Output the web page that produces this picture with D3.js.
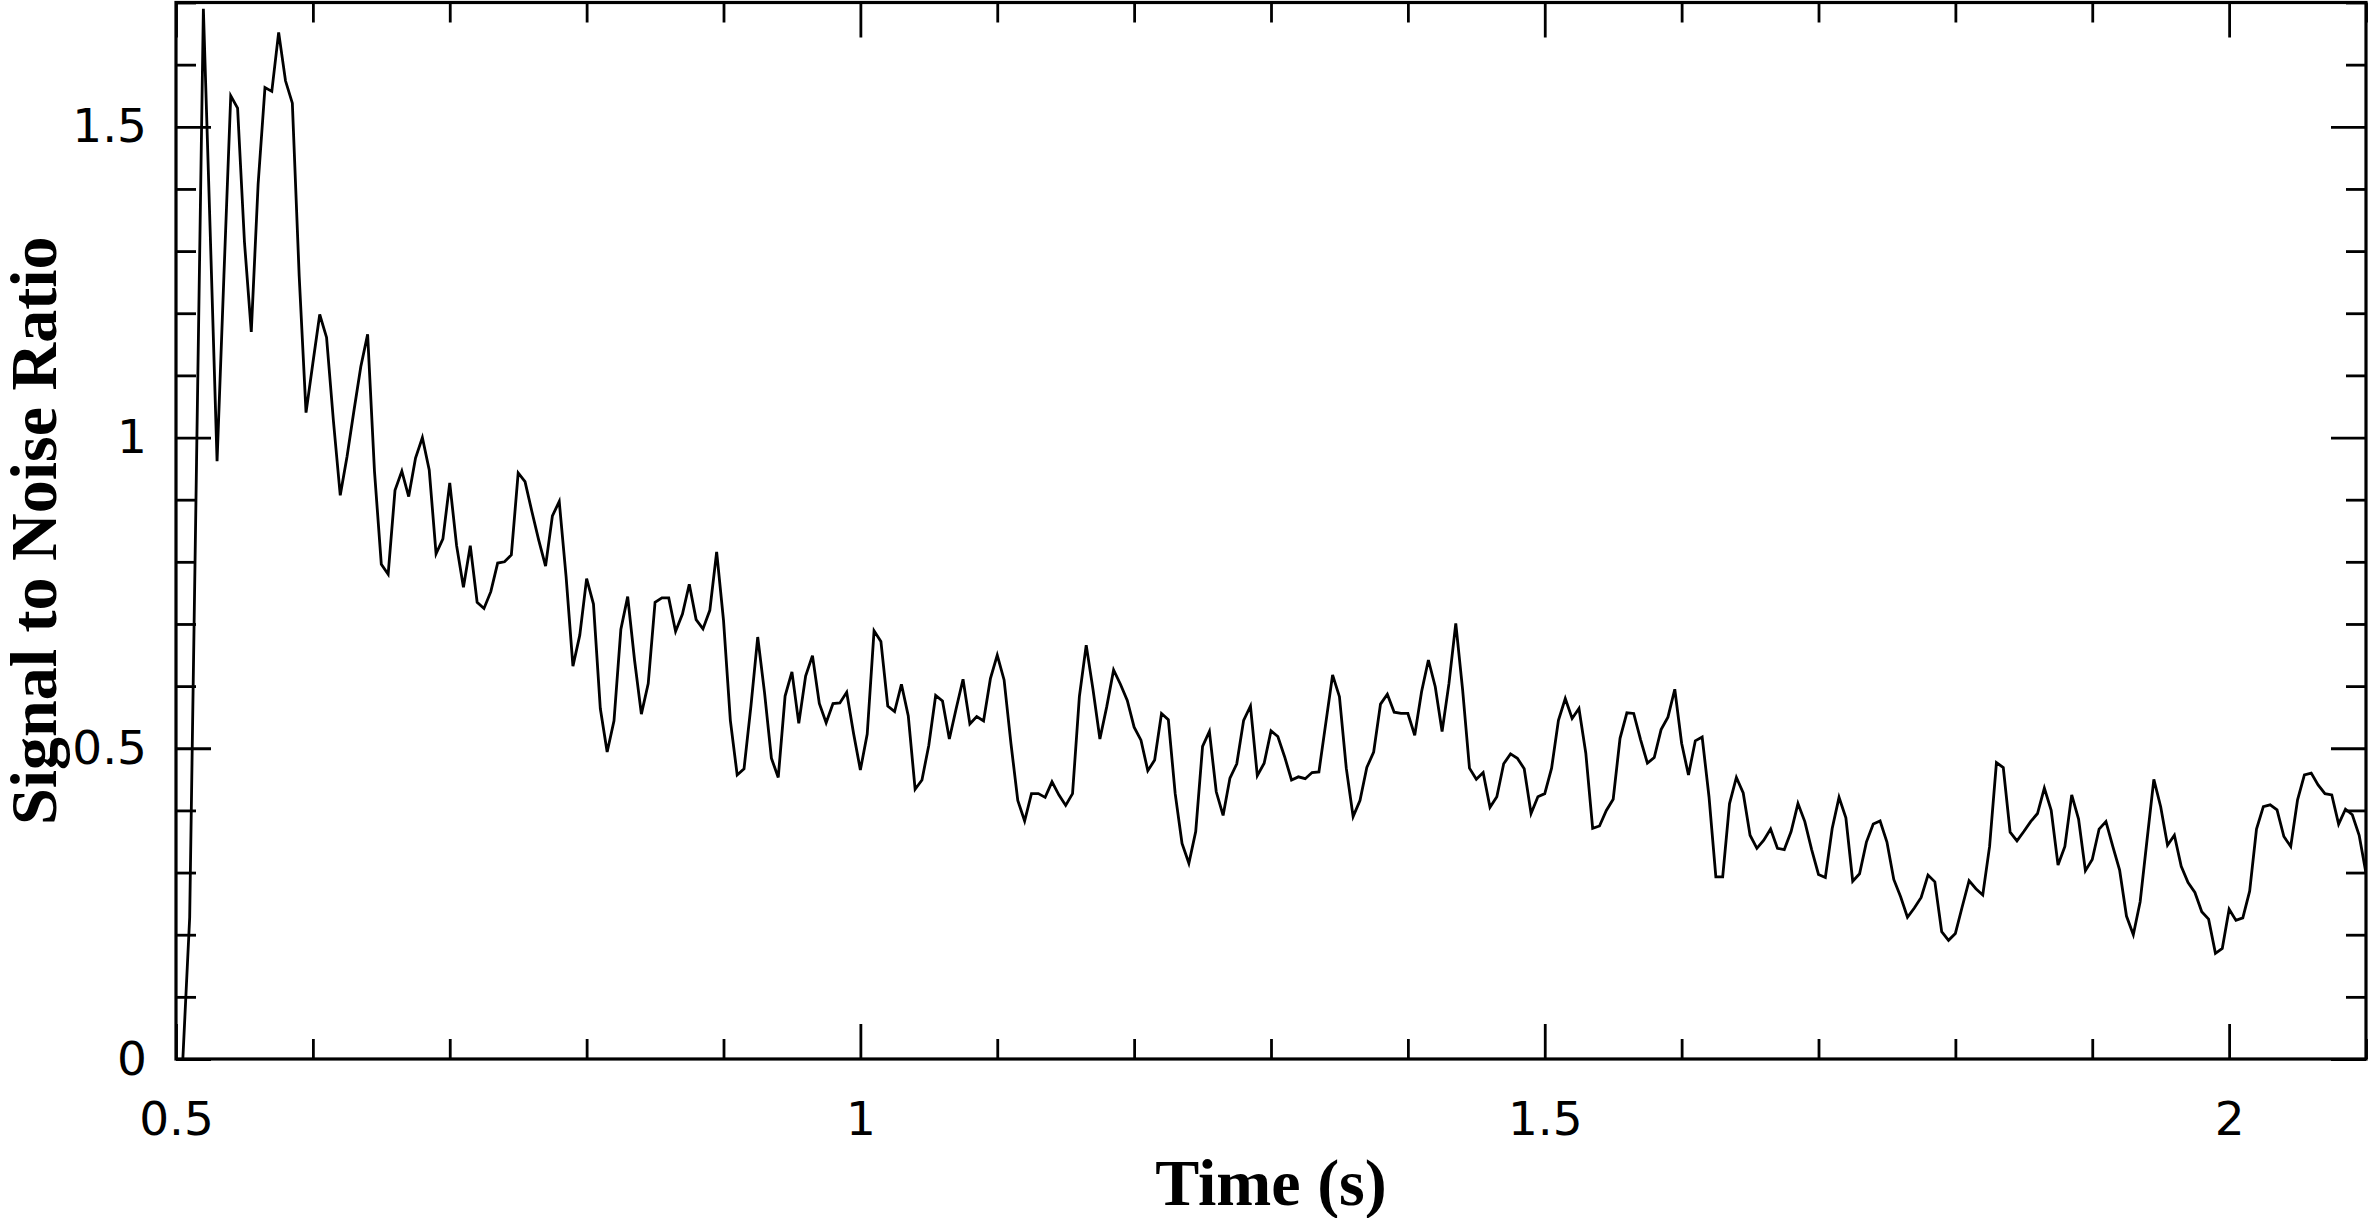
<!DOCTYPE html>
<html>
<head>
<meta charset="utf-8">
<script src="https://cdn.jsdelivr.net/npm/d3@7.9.0/dist/d3.min.js"></script>
<style>
  html, body { margin: 0; padding: 0; background: #fff; }
  svg { display: block; }
  .tick line { stroke: #000; stroke-width: 2.8; }
  .tick text { font-family: "DejaVu Sans", sans-serif; font-size: 47px; fill: #000; }
  .title { font-family: "Liberation Serif", "Times New Roman", serif; font-weight: bold; font-size: 66px; fill: #000; }
</style>
</head>
<body>
<svg id="chart" width="2369" height="1218"></svg>
<script>
// samples start at 0.505 s, one every 5 ms
const timeStart = 0.505;
const timeStep = 0.005;

// signal to noise ratio
const snr = [
  0, 0.228, 0.96, 1.69, 1.33, 0.962, 1.26, 1.55, 1.53, 1.315,
  1.17, 1.408, 1.563, 1.557, 1.652, 1.574, 1.538, 1.26, 1.04, 1.12,
  1.198, 1.161, 1.027, 0.907, 0.97, 1.043, 1.114, 1.166, 0.946, 0.796,
  0.78, 0.915, 0.946, 0.905, 0.967, 1.0, 0.948, 0.813, 0.837, 0.927,
  0.826, 0.759, 0.826, 0.735, 0.725, 0.752, 0.798, 0.8, 0.811, 0.943,
  0.929, 0.881, 0.835, 0.793, 0.874, 0.897, 0.776, 0.632, 0.682, 0.773,
  0.732, 0.564, 0.494, 0.544, 0.691, 0.744, 0.642, 0.555, 0.604, 0.735,
  0.742, 0.742, 0.688, 0.716, 0.764, 0.707, 0.692, 0.722, 0.816, 0.706,
  0.545, 0.457, 0.467, 0.567, 0.679, 0.589, 0.484, 0.453, 0.584, 0.623,
  0.54, 0.616, 0.649, 0.572, 0.541, 0.572, 0.573, 0.59, 0.524, 0.465,
  0.523, 0.689, 0.672, 0.568, 0.559, 0.603, 0.552, 0.434, 0.449, 0.505,
  0.585, 0.576, 0.515, 0.564, 0.611, 0.539, 0.551, 0.544, 0.612, 0.65,
  0.61, 0.508, 0.416, 0.383, 0.427, 0.427, 0.421, 0.446, 0.425, 0.408,
  0.427, 0.583, 0.666, 0.594, 0.515, 0.567, 0.626, 0.603, 0.577, 0.534,
  0.513, 0.464, 0.481, 0.556, 0.546, 0.427, 0.347, 0.315, 0.366, 0.503,
  0.527, 0.43, 0.392, 0.452, 0.475, 0.545, 0.568, 0.456, 0.476, 0.528,
  0.519, 0.486, 0.449, 0.454, 0.451, 0.461, 0.462, 0.54, 0.618, 0.583,
  0.468, 0.39, 0.416, 0.469, 0.494, 0.571, 0.587, 0.558, 0.556, 0.556,
  0.521, 0.591, 0.642, 0.599, 0.527, 0.604, 0.701, 0.594, 0.468, 0.45,
  0.461, 0.405, 0.422, 0.475, 0.491, 0.484, 0.467, 0.395, 0.422, 0.427,
  0.468, 0.545, 0.58, 0.548, 0.564, 0.492, 0.371, 0.375, 0.4, 0.418,
  0.516, 0.557, 0.556, 0.514, 0.476, 0.485, 0.53, 0.55, 0.595, 0.508,
  0.457, 0.512, 0.518, 0.422, 0.293, 0.293, 0.411, 0.453, 0.428, 0.36,
  0.339, 0.352, 0.37, 0.339, 0.337, 0.366, 0.411, 0.382, 0.337, 0.297,
  0.292, 0.371, 0.421, 0.388, 0.286, 0.298, 0.349, 0.378, 0.383, 0.349,
  0.289, 0.261, 0.228, 0.243, 0.26, 0.296, 0.285, 0.205, 0.191, 0.202,
  0.245, 0.287, 0.274, 0.264, 0.342, 0.477, 0.469, 0.365, 0.351, 0.366,
  0.382, 0.395, 0.436, 0.4, 0.312, 0.342, 0.425, 0.386, 0.303, 0.321,
  0.37, 0.382, 0.342, 0.304, 0.23, 0.2, 0.253, 0.352, 0.45, 0.406,
  0.344, 0.36, 0.31, 0.284, 0.268, 0.237, 0.225, 0.17, 0.178, 0.241,
  0.223, 0.227, 0.27, 0.37, 0.406, 0.409, 0.401, 0.358, 0.342, 0.417,
  0.457, 0.46, 0.441, 0.427, 0.425, 0.378, 0.402, 0.393, 0.36, 0.299
];

const xDomain = [0.5, 2.1];
const yDomain = [0, 1.7];
const xMajor = [0.5, 1, 1.5, 2];
const xMinor = [0.6, 0.7, 0.8, 0.9, 1.1, 1.2, 1.3, 1.4, 1.6, 1.7, 1.8, 1.9, 2.1];
const yMajor = [0, 0.5, 1, 1.5];
const yMinor = [0.1, 0.2, 0.3, 0.4, 0.6, 0.7, 0.8, 0.9, 1.1, 1.2, 1.3, 1.4, 1.6, 1.7];
const xTickLabels = ['0.5', '1', '1.5', '2'];
const yTickLabels = ['0', '0.5', '1', '1.5'];

const plotL = 176, plotR = 2366, plotT = 2.5, plotB = 1059;
const svg = d3.select('#chart');

const x = d3.scaleLinear().domain(xDomain).range([plotL, plotR]);
const y = d3.scaleLinear().domain(yDomain).range([plotB, plotT]);

const points = snr.map((v, i) => ({ t: timeStart + i * timeStep, v: v }));

svg.append('clipPath').attr('id', 'plotclip')
  .append('rect')
  .attr('x', plotL).attr('y', plotT)
  .attr('width', plotR - plotL).attr('height', plotB - plotT);

// the trace
svg.append('path')
  .datum(points)
  .attr('clip-path', 'url(#plotclip)')
  .attr('fill', 'none')
  .attr('stroke', '#000')
  .attr('stroke-width', 2.8)
  .attr('stroke-linejoin', 'miter')
  .attr('d', d3.line().x(d => x(d.t)).y(d => y(d.v)));

// ticks point inward on all four sides
function addAxis(gen, transform, values, size, labels) {
  const a = gen.tickValues(values).tickSizeInner(-size).tickSizeOuter(0);
  if (labels) a.tickFormat((d, i) => labels[i]);
  else a.tickFormat('');
  const g = svg.append('g').attr('transform', transform).call(a);
  g.select('.domain').remove();
  return g;
}

const bx = addAxis(d3.axisBottom(x), `translate(0,${plotB})`, xMajor, 35, xTickLabels);
bx.selectAll('text').attr('y', 43).attr('dy', '0.71em');
addAxis(d3.axisBottom(x), `translate(0,${plotB})`, xMinor, 20);
addAxis(d3.axisTop(x), `translate(0,${plotT})`, xMajor, 35);
addAxis(d3.axisTop(x), `translate(0,${plotT})`, xMinor, 20);

const ly = addAxis(d3.axisLeft(y), `translate(${plotL},0)`, yMajor, 35, yTickLabels);
ly.selectAll('text').attr('x', -29);
addAxis(d3.axisLeft(y), `translate(${plotL},0)`, yMinor, 20);
addAxis(d3.axisRight(y), `translate(${plotR},0)`, yMajor, 35);
addAxis(d3.axisRight(y), `translate(${plotR},0)`, yMinor, 20);

// frame
svg.append('rect')
  .attr('x', plotL).attr('y', plotT)
  .attr('width', plotR - plotL).attr('height', plotB - plotT)
  .attr('fill', 'none')
  .attr('stroke', '#000')
  .attr('stroke-width', 3.2);

svg.append('text')
  .attr('class', 'title')
  .attr('x', (plotL + plotR) / 2)
  .attr('y', 1205)
  .attr('text-anchor', 'middle')
  .text('Time (s)');

svg.append('text')
  .attr('class', 'title')
  .attr('transform', `translate(56,${(plotT + plotB) / 2}) rotate(-90)`)
  .attr('text-anchor', 'middle')
  .text('Signal to Noise Ratio');
</script>
</body>
</html>
